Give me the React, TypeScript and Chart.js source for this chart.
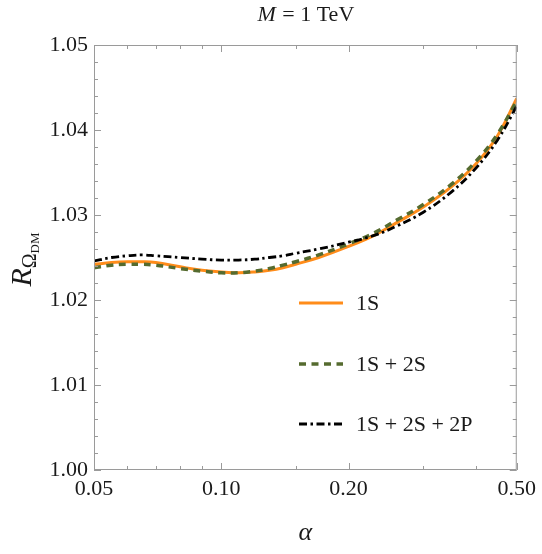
import React, { useEffect, useRef } from "react";
import { Chart, registerables } from "chart.js";

Chart.register(...registerables);

// ---- data ----
const alphaValues = [0.05, 0.055, 0.06, 0.065, 0.07, 0.08, 0.09, 0.1, 0.11, 0.12, 0.13, 0.14, 0.15, 0.17, 0.2, 0.23, 0.26, 0.3, 0.35, 0.4, 0.45, 0.5];
const r1S = [1.0242, 1.0244, 1.0245, 1.0245, 1.0244, 1.0239, 1.0235, 1.0233, 1.0232, 1.0233, 1.0235, 1.0238, 1.0242, 1.025, 1.0263, 1.0276, 1.0291, 1.0309, 1.0333, 1.036, 1.0393, 1.0437];
const r1S2S = [1.0238, 1.0241, 1.0242, 1.0242, 1.0241, 1.0237, 1.0234, 1.0232, 1.0232, 1.0234, 1.0237, 1.0241, 1.0245, 1.0253, 1.0266, 1.0279, 1.0294, 1.0312, 1.0336, 1.0363, 1.0395, 1.0434];
const r1S2S2P = [1.0246, 1.025, 1.0252, 1.0253, 1.0252, 1.025, 1.0248, 1.0247, 1.0247, 1.0248, 1.025, 1.0252, 1.0255, 1.026, 1.0268, 1.0276, 1.0287, 1.0303, 1.0327, 1.0355, 1.0388, 1.0428];

const seriesLabels = ["1S", "1S + 2S", "1S + 2S + 2P"];
const seriesColors = ["#FF8C1A", "#556B2F", "#000000"];

const yMajorTicks = [1.0, 1.01, 1.02, 1.03, 1.04, 1.05];
const yMinorTicks = [1.002, 1.004, 1.006, 1.008, 1.012, 1.014, 1.016, 1.018, 1.022, 1.024, 1.026, 1.028, 1.032, 1.034, 1.036, 1.038, 1.042, 1.044, 1.046, 1.048];
const xMajorTicks = [0.05, 0.1, 0.2, 0.5];
const xMinorTicks = [0.06, 0.07, 0.08, 0.09, 0.15, 0.3, 0.4];

const SERIF = "'Liberation Serif', 'DejaVu Serif', serif";

const W = 542;
const H = 554;

function pts(ys: number[]) {
  return alphaValues.map((x, i) => ({ x, y: ys[i] }));
}

const dashes: number[][] = [[], [7, 5.5], [8, 3.5, 2.5, 3.5]];
const widths = [3, 3.5, 2.8];

const decorPlugin = {
  id: "decor",
  afterDraw(chart: any) {
    const { ctx, chartArea: a, scales } = chart;
    const xs = scales.x;
    const ys = scales.y;
    ctx.save();
    // frame
    ctx.strokeStyle = "#9a9a9a";
    ctx.lineWidth = 1;
    ctx.strokeRect(a.left + 0.5, a.top + 0.5, a.right - a.left - 1, a.bottom - a.top - 1);
    // ticks
    ctx.beginPath();
    const yTick = (v: number, len: number) => {
      const p = Math.round(ys.getPixelForValue(v)) + 0.5;
      ctx.moveTo(a.left, p);
      ctx.lineTo(a.left + len, p);
      ctx.moveTo(a.right, p);
      ctx.lineTo(a.right - len, p);
    };
    const xTick = (v: number, len: number) => {
      const p = Math.round(xs.getPixelForValue(v)) + 0.5;
      ctx.moveTo(p, a.bottom);
      ctx.lineTo(p, a.bottom - len);
      ctx.moveTo(p, a.top);
      ctx.lineTo(p, a.top + len);
    };
    yMajorTicks.forEach((v) => yTick(v, 7));
    yMinorTicks.forEach((v) => yTick(v, 4));
    xMajorTicks.forEach((v) => xTick(v, 7));
    xMinorTicks.forEach((v) => xTick(v, 4));
    ctx.stroke();

    ctx.fillStyle = "#1a1a1a";
    // title: M = 1 TeV
    ctx.textBaseline = "alphabetic";
    const cx = (a.left + a.right) / 2;
    ctx.font = `italic 22px ${SERIF}`;
    const mW = ctx.measureText("M").width;
    ctx.font = `22px ${SERIF}`;
    const rest = " = 1 TeV";
    const rW = ctx.measureText(rest).width;
    const tx = cx - (mW + rW) / 2;
    ctx.font = `italic 22px ${SERIF}`;
    ctx.fillText("M", tx, 21);
    ctx.font = `22px ${SERIF}`;
    ctx.fillText(rest, tx + mW + 1, 21);

    // x title alpha
    ctx.font = `italic 26px ${SERIF}`;
    ctx.textAlign = "center";
    ctx.fillText("α", cx, 540);

    // y title R_{Omega_DM}
    ctx.textAlign = "left";
    const cy = (a.top + a.bottom) / 2 + 2;
    ctx.font = `italic 30px ${SERIF}`;
    const rw = ctx.measureText("R").width;
    ctx.font = `20px ${SERIF}`;
    const ow = ctx.measureText("Ω").width;
    ctx.font = `13px ${SERIF}`;
    const dw = ctx.measureText("DM").width;
    const total = rw + ow + dw;
    ctx.save();
    ctx.translate(31, cy);
    ctx.rotate(-Math.PI / 2);
    let x0 = -total / 2;
    ctx.font = `italic 30px ${SERIF}`;
    ctx.fillText("R", x0, 0);
    x0 += rw;
    ctx.font = `20px ${SERIF}`;
    ctx.fillText("Ω", x0, 5);
    x0 += ow;
    ctx.font = `13px ${SERIF}`;
    ctx.fillText("DM", x0, 8);
    ctx.restore();

    // legend
    const rows = [303, 364, 424];
    for (let i = 0; i < 3; i++) {
      ctx.save();
      ctx.strokeStyle = seriesColors[i];
      ctx.lineWidth = widths[i];
      ctx.setLineDash(dashes[i]);
      ctx.beginPath();
      ctx.moveTo(299, rows[i]);
      ctx.lineTo(343, rows[i]);
      ctx.stroke();
      ctx.restore();
      ctx.font = `22px ${SERIF}`;
      ctx.textBaseline = "middle";
      ctx.textAlign = "left";
      ctx.fillStyle = "#1a1a1a";
      ctx.fillText(seriesLabels[i], 356, rows[i] + 1);
    }
    ctx.restore();
  },
};

export default function App() {
  const ref = useRef<HTMLCanvasElement>(null);
  useEffect(() => {
    document.body.style.margin = "0";
    const canvas = ref.current!;
    const series = [r1S, r1S2S, r1S2S2P];
    const chart = new Chart(canvas, {
      type: "line",
      data: {
        datasets: series.map((s, i) => ({
          label: seriesLabels[i],
          data: pts(s),
          borderColor: seriesColors[i],
          backgroundColor: seriesColors[i],
          borderWidth: widths[i],
          borderDash: dashes[i],
          pointRadius: 0,
          tension: 0.4,
          fill: false,
          order: 3 - i,
        })),
      },
      options: {
        animation: false,
        responsive: false,
        devicePixelRatio: 1,
        layout: { padding: { top: 45, right: 23, left: 0, bottom: 0 } },
        plugins: { legend: { display: false }, tooltip: { enabled: false }, title: { display: false } },
        scales: {
          x: {
            type: "logarithmic",
            min: 0.05,
            max: 0.5,
            afterBuildTicks: (s: any) => {
              s.ticks = xMajorTicks.map((v) => ({ value: v }));
            },
            afterFit: (s: any) => {
              s.height = H - 470;
            },
            ticks: {
              callback: (v: any) => Number(v).toFixed(2),
              autoSkip: false,
              maxRotation: 0,
              padding: 6,
              color: "#1a1a1a",
              font: { family: SERIF, size: 22 },
            },
            grid: { display: false, drawTicks: false },
            border: { display: false },
          },
          y: {
            type: "linear",
            min: 1.0,
            max: 1.05,
            afterBuildTicks: (s: any) => {
              s.ticks = yMajorTicks.map((v) => ({ value: v }));
            },
            afterFit: (s: any) => {
              s.width = 94;
            },
            ticks: {
              callback: (v: any) => Number(v).toFixed(2),
              padding: 6,
              color: "#1a1a1a",
              font: { family: SERIF, size: 22 },
            },
            grid: { display: false, drawTicks: false },
            border: { display: false },
          },
        },
      },
      plugins: [decorPlugin],
    } as any);
    return () => chart.destroy();
  }, []);
  return (
    <div style={{ width: W, height: H }}>
      <canvas ref={ref} width={W} height={H} style={{ display: "block", width: W, height: H }} />
    </div>
  );
}
